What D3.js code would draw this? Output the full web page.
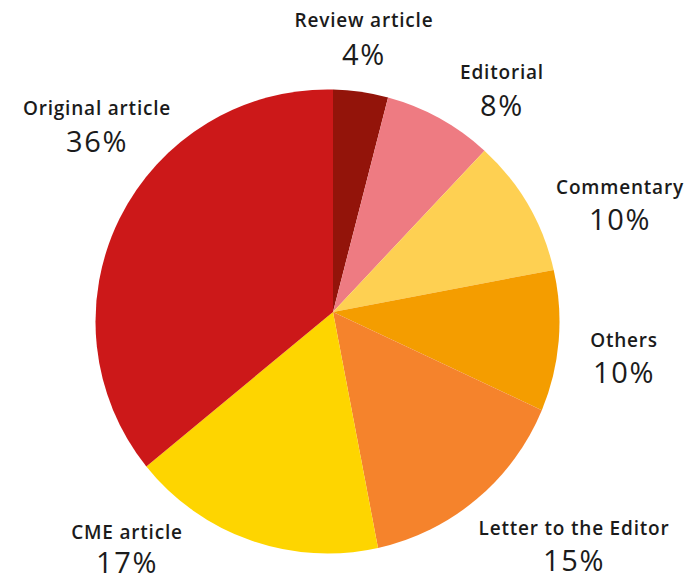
<!DOCTYPE html>
<html>
<head>
<meta charset="utf-8">
<script src="https://cdn.jsdelivr.net/npm/d3@7"></script>
<style>
  body { margin: 0; background: #fff; }
  svg { display: block; }
  text { font-family: "Open Sans", Lato, sans-serif; fill: #1b1b1b; }
</style>
</head>
<body>
<div id="chart"></div>
<script>
// article types, clockwise from 12 o'clock
var categories = ["Review article", "Editorial", "Commentary", "Others",
                  "Letter to the Editor", "CME article", "Original article"];
var shares = [4, 8, 10, 10, 15, 17, 36];
var colors = ["#93140a", "#ee7b82", "#fed052", "#f49d00",
              "#f5832c", "#fed500", "#cc1819"];

// where each label sits: [centre x, name baseline, pct baseline]
var labelPos = [
  [364, 27, 65],
  [502, 79, 116],
  [620, 194, 230],
  [624, 347, 383],
  [574, 535, 571],
  [127, 539, 573],
  [97, 115, 152]
];

var width = 696, height = 581;
var cx = 327.5, cy = 321.5, R = 232;   // outline circle
var ax = 333, ay = 312;                 // point where the slices meet

var svg = d3.select("#chart").append("svg")
  .attr("width", width)
  .attr("height", height);

var pie = d3.pie().sort(null).value(function(d) { return d; });
var arcs = pie(shares);

// slices fan out from (ax, ay) but end on the circle round (cx, cy)
function edgePoint(a) {
  var dx = Math.sin(a), dy = -Math.cos(a);
  var ox = ax - cx, oy = ay - cy;
  var b = ox * dx + oy * dy;
  var t = -b + Math.sqrt(b * b - (ox * ox + oy * oy - R * R));
  return [ax + t * dx, ay + t * dy];
}

function slicePath(d) {
  var p0 = edgePoint(d.startAngle), p1 = edgePoint(d.endAngle);
  var a0 = Math.atan2(p0[1] - cy, p0[0] - cx);
  var a1 = Math.atan2(p1[1] - cy, p1[0] - cx);
  var span = a1 - a0;
  if (span < 0) span += 2 * Math.PI;
  var p = d3.path();
  p.moveTo(ax, ay);
  p.lineTo(p0[0], p0[1]);
  p.arc(cx, cy, R, a0, a0 + span, false);
  p.closePath();
  return p.toString();
}

svg.selectAll("path.slice")
  .data(arcs)
  .enter()
  .append("path")
  .attr("class", "slice")
  .attr("d", slicePath)
  .attr("fill", function(d, i) { return colors[i]; });

var labels = svg.selectAll("g.label")
  .data(arcs)
  .enter()
  .append("g")
  .attr("class", "label");

labels.append("text")
  .attr("x", function(d, i) { return labelPos[i][0]; })
  .attr("y", function(d, i) { return labelPos[i][1]; })
  .attr("text-anchor", "middle")
  .style("font-size", "19px")
  .style("font-weight", "600")
  .style("letter-spacing", "0.8px")
  .text(function(d, i) { return categories[i]; });

labels.append("text")
  .attr("x", function(d, i) { return labelPos[i][0]; })
  .attr("y", function(d, i) { return labelPos[i][2]; })
  .attr("text-anchor", "middle")
  .style("font-size", "29px")
  .style("font-weight", "500")
  .style("letter-spacing", "1.6px")
  .text(function(d) { return d.data + "%"; });
</script>
</body>
</html>
